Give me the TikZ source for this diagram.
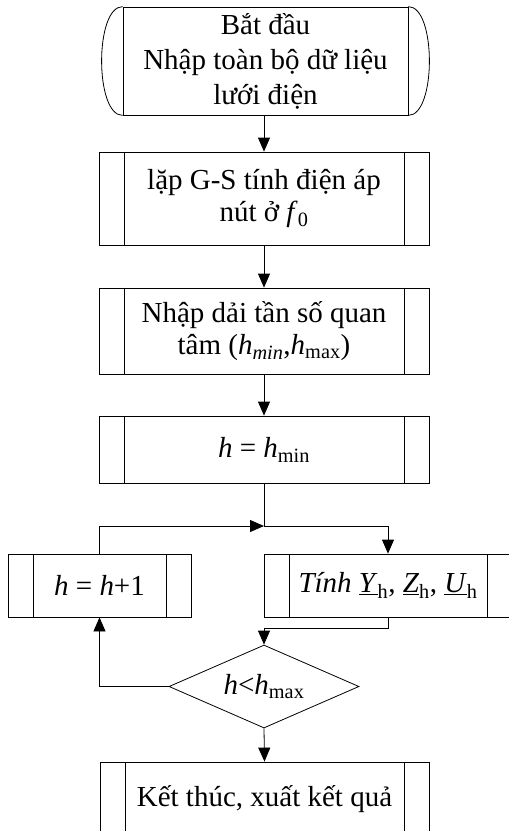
\documentclass[tikz,border=0pt]{standalone}
\usepackage{fontspec}
\setmainfont{Liberation Serif}
\usetikzlibrary{arrows.meta,shapes.geometric}
\tikzset{
  x=1pt, y=1pt,
  conn/.style={line width=0.8pt},
  flow/.style={conn, -{Triangle[length=14pt,width=12pt]}},
  txt/.style={align=center, font=\fontsize{29}{32}\selectfont},
  procbox/.style={txt, draw, line width=0.8pt, rectangle, inner sep=0pt,
    path picture={
      \draw[line width=0.8pt]
        ([xshift=25pt]path picture bounding box.north west) -- ([xshift=25pt]path picture bounding box.south west)
        ([xshift=-25pt]path picture bounding box.north east) -- ([xshift=-25pt]path picture bounding box.south east);
    }},
  termbox/.style={txt, font=\fontsize{29}{35}\selectfont, draw, line width=0.8pt, rectangle, inner sep=0pt},
  decision/.style={txt, draw, line width=0.8pt, diamond, inner sep=0pt, aspect=2.29},
}
\begin{document}
\begin{tikzpicture}
\clip (0,0) rectangle (509,-831);

% start / input terminal
\node[termbox, minimum width=285pt, minimum height=108pt] (start) at (265.5,-61)
  {Bắt đầu\\Nhập toàn bộ dữ liệu\\lưới điện};
\draw[conn] (start.north west) .. controls +(-28,0) and +(-28,0) .. (start.south west);
\draw[conn] (start.north east) .. controls +(28,0) and +(28,0) .. (start.south east);

% process steps
\node[procbox, minimum width=330pt, minimum height=93pt] (gs) at (264,-198.5)
  {lặp G-S tính điện áp\\nút ở \textit{f}\textsubscript{0}};
\node[procbox, minimum width=330pt, minimum height=86pt] (band) at (264,-331)
  {Nhập dải tần số quan\\tâm (\textit{h}\textsubscript{\textit{min}},\textit{h}\textsubscript{max})};
\node[procbox, minimum width=330pt, minimum height=67pt] (hmin) at (264,-449.5)
  {\textit{h} = \textit{h}\textsubscript{min}};
\node[procbox, minimum width=183pt, minimum height=63pt] (inc) at (99.5,-585.5)
  {\textit{h} = \textit{h}+1};
\node[procbox, minimum width=248pt, minimum height=63pt] (calc) at (388,-585.5)
  {\textit{Tính} \underline{\textit{Y}}\textsubscript{h}, \underline{\textit{Z}}\textsubscript{h}, \underline{\textit{U}}\textsubscript{h}};
\node[decision, minimum width=190pt, minimum height=83pt] (test) at (264,-686.5)
  {\textit{h}<\textit{h}\textsubscript{max}};
\node[procbox, minimum width=329pt, minimum height=74pt] (done) at (264.5,-799)
  {Kết thúc, xuất kết quả};

% junction points
\coordinate (jn) at (264,-526);
\coordinate (jc) at (264,-628);

% connectors
\draw[flow] (start.south -| gs.north) -- (gs.north);
\draw[flow] (gs) -- (band);
\draw[flow] (band) -- (hmin);
\draw[conn] (hmin.south) -- (jn);
\draw[flow] (jn) -| (calc.north);
\draw[flow] (inc.north) |- (jn);
\draw[conn] (calc.south) |- (jc);
\draw[flow] (jc) -- (test.north);
\draw[flow] (test.west) -| (inc.south);
\draw[flow] (test.south) -- (done.north);
\end{tikzpicture}
\end{document}
